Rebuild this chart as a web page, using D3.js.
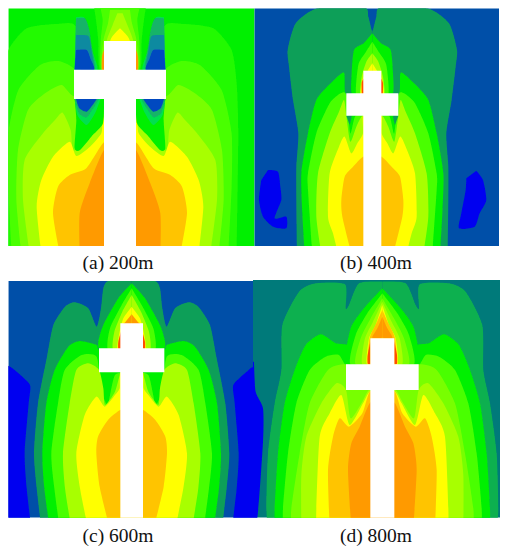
<!DOCTYPE html>
<html><head><meta charset="utf-8"><style>html,body{margin:0;background:#fff}svg{display:block}</style>
<script src="https://cdn.jsdelivr.net/npm/d3@7"></script></head><body>
<svg id="c" width="506" height="550"></svg>
<script>
const panelLabels=["(a) 200m","(b) 400m","(c) 600m","(d) 800m"];
const levelColors={blue:"#0000f0",navy:"#0050a8",teal:"#007a7a",sea:"#0f9f58",dk:"#0cb050",g0:"#00f000",g1:"#20fa00",g2:"#48ff00",g3:"#78ff00",g4:"#a8ff00",y:"#ffff00",gold:"#ffc400",org:"#ff9a00",red:"#ff5000",i1:"#12b468",i2:"#0f8aa0",i3:"#0048c0",i4:"#00e050"};
// each layer: [colour key, half-contour [distance from axis, y], side (optional)]
const contoursA=[
["g1",[[350,760],[355,400],[350,250],[335,150],[280,85],[190,72],[130,85],[130,300],[0,300],[0,760]]],
["g2",[[325,760],[335,560],[335,400],[305,270],[240,195],[185,183],[135,210],[130,300],[0,300],[0,760]]],
["g3",[[296,760],[311,600],[306,450],[276,330],[225,280],[175,255],[135,290],[0,300],[0,760]]],
["g4",[[271,760],[291,600],[286,480],[231,400],[195,360],[172,338],[148,390],[140,452],[100,410],[50,310],[0,300],[0,760]]],
["y",[[236,760],[250,620],[236,540],[201,470],[151,425],[131,468],[90,440],[56,400],[48,350],[0,340],[0,760]]],
["gold",[[181,760],[201,640],[186,560],[151,525],[101,505],[51,430],[0,400],[0,760]]],
["org",[[121,760],[121,640],[91,550],[48,450],[0,430],[0,760]]],
["g1",[[78,20],[72,60],[65,123],[60,210],[0,210],[0,20]]],
["g2",[[60,20],[52,60],[58,123],[56,210],[0,210],[0,20]]],
["g3",[[30,30],[36,70],[50,123],[54,210],[0,210],[0,30]]],
["g4",[[8,40],[22,75],[40,123],[52,210],[0,210],[0,40]]],
["y",[[0,85],[15,100],[30,123],[50,210],[0,210]]],
["org",[[48,150],[54,170],[54,209],[40,209]]],
["i4",[[132,52],[108,52],[98,90],[88,140],[68,209],[136,209]]],
["i1",[[132,56],[104,56],[92,90],[86,130],[76,209],[136,209]]],
["i2",[[132,105],[95,108],[86,150],[80,209],[136,209]]],
["i3",[[132,150],[100,150],[88,178],[78,209],[136,209]]],
["g0",[[136,297],[131,360],[136,445],[120,450],[86,410],[51,370],[48,297]]],
["i4",[[136,297],[128,345],[100,375],[75,340],[58,297]]],
["i1",[[136,297],[123,340],[100,352],[76,318],[64,297]]],
["i3",[[132,297],[122,325],[100,335],[80,312],[70,297]]]
];
const crossA=[[48,123],[48,209],[138,209],[138,297],[48,297],[48,760]];
const contoursB=[
["sea",[[226,760],[228,600],[228,500],[222,400],[238,300],[250,200],[254,150],[230,70],[165,25],[25,22],[12,50],[2,90],[0,90],[0,760]]],
["g0",[[203,760],[210,640],[213,520],[193,400],[168,300],[125,250],[85,218],[78,285],[0,280],[0,760]]],
["g0",[[0,100],[26,130],[55,150],[62,220],[60,285],[0,285]]],
["g2",[[180,760],[193,570],[193,520],[168,400],[128,310],[95,280],[78,285],[66,400],[50,347],[0,347],[0,760]]],
["g2",[[0,125],[22,160],[42,195],[48,285],[0,285]]],
["g4",[[153,760],[168,650],[163,520],[128,400],[100,335],[85,300],[78,347],[66,425],[48,380],[30,347],[0,347],[0,760]]],
["g4",[[0,160],[18,185],[32,230],[36,285],[0,285]]],
["y",[[103,760],[118,700],[133,650],[128,520],[100,440],[83,410],[63,460],[45,430],[28,400],[28,347],[0,347],[0,760]]],
["y",[[0,190],[14,212],[30,240],[34,285],[0,285]]],
["gold",[[63,760],[90,650],[93,600],[83,530],[58,500],[28,470],[0,470],[0,760]]],
["sea",[[78,347],[62,347],[68,375]]],
["red",[[26,235],[32,250],[31,285],[25,285]]],
["blue",[[313,510],[283,515],[276,560],[273,600],[293,655],[258,650],[258,685],[298,680],[328,650],[340,600],[333,540]],"L"],
["blue",[[312,512],[332,540],[342,600],[322,640],[307,680],[260,685],[267,640],[280,570],[282,535]],"R"]
];
const crossB=[[27,212],[27,280],[78,280],[78,347],[27,347],[27,760]];
const contoursC=[
["blue",[[301,760],[315,640],[321,535],[309,385],[305,330],[345,290],[372,272],[420,272],[420,760]]],
["sea",[[271,760],[285,640],[293,535],[281,385],[255,250],[235,150],[200,95],[170,82],[130,100],[105,155],[92,100],[85,40],[70,18],[0,18],[0,760]]],
["g0",[[246,760],[262,640],[268,535],[256,385],[231,285],[190,215],[155,198],[105,210],[95,225],[0,220],[0,760]]],
["g0",[[0,25],[40,70],[85,150],[100,200],[92,225],[0,225]]],
["g2",[[216,760],[232,640],[241,535],[221,385],[201,285],[150,240],[105,245],[92,340],[72,390],[50,300],[0,292],[0,760]]],
["g2",[[0,40],[30,90],[65,160],[70,225],[0,225]]],
["g4",[[181,760],[200,640],[206,535],[186,385],[166,285],[130,265],[98,285],[85,340],[80,390],[50,350],[34,300],[0,292],[0,760]]],
["g4",[[0,60],[28,110],[52,170],[55,225],[0,225]]],
["y",[[131,760],[155,640],[166,535],[141,420],[106,365],[81,395],[50,360],[36,340],[34,292],[0,292],[0,760]]],
["y",[[0,95],[25,130],[38,180],[42,225],[0,225]]],
["gold",[[66,760],[96,635],[106,535],[101,485],[71,435],[34,405],[0,405],[0,760]]],
["org",[[0,118],[18,140],[28,150],[0,150]]],
["red",[[32,170],[40,200],[40,222],[32,222]]]
];
const crossC=[[34,145],[34,220],[98,220],[98,292],[34,292],[34,760]];
const contoursD=[
["blue",[[385,260],[380,350],[358,400],[358,500],[375,728],[400,760],[420,760],[420,260]],"L"],
["dk",[[343,760],[348,700],[343,535],[323,385],[303,285],[300,150],[250,50],[200,25],[112,28],[110,100],[100,90],[70,25],[0,20],[0,760]]],
["g0",[[323,760],[323,700],[313,535],[293,385],[263,285],[230,210],[185,178],[140,205],[105,210],[98,240],[0,240],[0,760]]],
["g0",[[0,40],[55,100],[95,160],[108,268],[0,268]]],
["g2",[[298,760],[298,700],[283,535],[258,385],[218,285],[170,245],[130,240],[100,280],[0,280],[0,760]]],
["g2",[[0,55],[45,115],[80,180],[95,268],[0,268]]],
["g3",[[273,760],[273,700],[248,535],[218,385],[163,285],[110,268],[0,280],[0,760]]],
["g3",[[0,70],[35,130],[65,190],[80,268],[0,268]]],
["g4",[[243,760],[243,600],[228,485],[183,385],[138,325],[109,345],[95,430],[60,380],[40,345],[0,345],[0,760]]],
["g4",[[0,80],[28,140],[52,190],[60,268],[0,268]]],
["y",[[198,760],[198,700],[188,485],[158,415],[123,360],[98,450],[58,385],[38,350],[0,345],[0,760]]],
["y",[[0,90],[20,150],[40,190],[46,268],[0,268]]],
["gold",[[158,760],[163,585],[148,485],[128,430],[100,455],[60,415],[38,350],[0,345],[0,760]]],
["gold",[[0,105],[18,145],[38,190],[42,268],[0,268]]],
["org",[[93,760],[103,585],[93,505],[68,455],[38,385],[0,360],[0,760]]],
["org",[[0,125],[15,160],[30,188],[0,188]]],
["red",[[36,200],[44,240],[44,266],[36,266]]]
];
const crossD=[[36,190],[36,268],[109,268],[109,345],[36,345],[36,760]];
const panels=[
{label:0,x0:0,y0:0,cx:360,rect:[25,25,764,738],bg:"g0",layers:contoursA,cross:crossA,lx:118,ly:269},
{label:1,x0:253,y0:0,cx:358,rect:[4,25,738,738],bg:"navy",layers:contoursB,cross:crossB,lx:376,ly:269},
{label:2,x0:0,y0:275,cx:395,rect:[25,18,759,728],bg:"navy",layers:contoursC,cross:crossC,lx:118,ly:542},
{label:3,x0:253,y0:275,cx:388,rect:[0,15,741,728],bg:"teal",layers:contoursD,cross:crossD,lx:376,ly:542}
];
const svg=d3.select("#c");
const defs=svg.append("defs");
defs.append("filter").attr("id","soft").attr("x","-5%").attr("y","-5%").attr("width","110%").attr("height","110%")
 .append("feGaussianBlur").attr("stdDeviation",0.55);
panels.forEach((p,i)=>{
 const x=d3.scaleLinear().domain([0,759]).range([p.x0,p.x0+253]);
 const y=d3.scaleLinear().domain([0,825]).range([p.y0,p.y0+275]);
 const [a,b,c,e]=p.rect;
 defs.append("clipPath").attr("id","clip"+i).append("rect").attr("x",x(a)).attr("y",y(b)).attr("width",x(c)-x(a)).attr("height",y(e)-y(b));
 const g=svg.append("g").attr("filter","url(#soft)").append("g").attr("clip-path",`url(#clip${i})`);
 g.append("rect").attr("x",x(a)).attr("y",y(b)).attr("width",x(c)-x(a)).attr("height",y(e)-y(b)).attr("fill",levelColors[p.bg]);
 // open curve through the contour; the closing corner on the bottom edge stays straight
 const line=s=>d3.line().x(d=>x(p.cx+s*d[0])).y(d=>y(d[1])).curve(d3.curveCardinal.tension(0.35));
 p.layers.forEach(([k,pts,side])=>{
  const last=pts[pts.length-1];
  const corner=last[1]===760;
  const open=corner?pts.slice(0,-1):pts;
  [-1,1].forEach(s=>{
   if((side==="L"&&s>0)||(side==="R"&&s<0))return;
   const tail=corner?`L${x(p.cx+s*last[0])},${y(last[1])}Z`:"Z";
   g.append("path").attr("d",line(s)(open)+tail).attr("fill",levelColors[k]);
  });
 });
 const crossPts=[...p.cross.map(d=>[-d[0],d[1]]).reverse(),...p.cross];
 g.append("path").attr("d",d3.line().x(d=>x(p.cx+d[0])).y(d=>y(d[1])).curve(d3.curveLinearClosed)(crossPts)).attr("fill","#fff");
 svg.append("text").attr("x",p.lx).attr("y",p.ly).attr("text-anchor","middle")
  .attr("font-family","'Liberation Serif',serif").attr("font-size",19.5).attr("fill","#111").text(panelLabels[p.label]);
});
</script></body></html>
